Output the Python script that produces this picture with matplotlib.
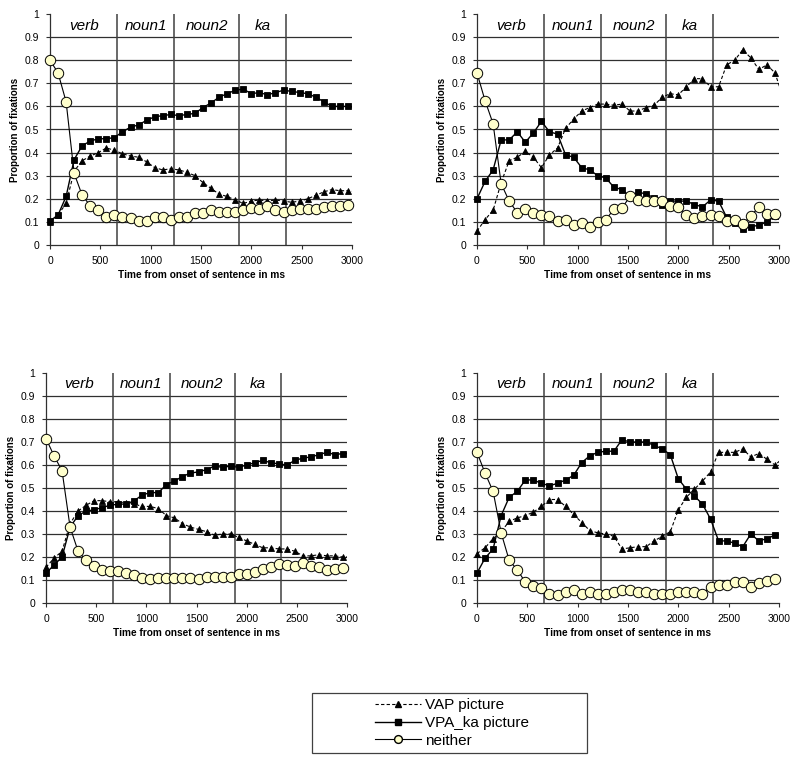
import numpy as np
import matplotlib
matplotlib.use("Agg")
import matplotlib.pyplot as plt
from matplotlib.lines import Line2D
from matplotlib.patches import Rectangle

plt.rcParams['font.family'] = ['Liberation Sans', 'DejaVu Sans']

# time axis (ms); last sample lies beyond the 3000 ms axis end
time_ms = [80 * i for i in range(39)]

regions = ["verb", "noun1", "noun2", "ka"]
boundaries = [0, 667, 1233, 1880, 2347]

series_names = ["VAP picture", "VPA_ka picture", "neither"]

# Panel 1 (top left)
p1_vap = [0.10, 0.13, 0.18, 0.32, 0.365, 0.385, 0.40, 0.42, 0.41, 0.395, 0.385, 0.38, 0.36,
          0.335, 0.325, 0.33, 0.325, 0.315, 0.30, 0.27, 0.245, 0.22, 0.21, 0.195, 0.18, 0.19,
          0.195, 0.19, 0.195, 0.19, 0.185, 0.19, 0.20, 0.215, 0.23, 0.24, 0.235, 0.235, 0.23]
p1_vpa = [0.104, 0.13, 0.21, 0.37, 0.43, 0.45, 0.46, 0.46, 0.465, 0.49, 0.51, 0.52, 0.54,
          0.555, 0.56, 0.565, 0.56, 0.565, 0.57, 0.595, 0.615, 0.64, 0.655, 0.67, 0.675, 0.655,
          0.66, 0.65, 0.66, 0.67, 0.665, 0.66, 0.655, 0.64, 0.62, 0.60, 0.60, 0.60, 0.595]
p1_nei = [0.80, 0.745, 0.62, 0.31, 0.215, 0.17, 0.15, 0.12, 0.13, 0.12, 0.115, 0.105, 0.105,
          0.12, 0.12, 0.11, 0.12, 0.12, 0.14, 0.14, 0.15, 0.145, 0.145, 0.145, 0.15, 0.16,
          0.155, 0.17, 0.15, 0.145, 0.15, 0.155, 0.155, 0.155, 0.165, 0.17, 0.17, 0.175, 0.18]

# Panel 2 (top right)
p2_vap = [0.06, 0.11, 0.15, 0.27, 0.365, 0.38, 0.405, 0.38, 0.335, 0.39, 0.42, 0.505, 0.545,
          0.58, 0.595, 0.61, 0.61, 0.605, 0.61, 0.58, 0.58, 0.595, 0.605, 0.64, 0.655, 0.65,
          0.685, 0.72, 0.72, 0.685, 0.685, 0.78, 0.80, 0.845, 0.81, 0.76, 0.78, 0.745, 0.64]
p2_vpa = [0.20, 0.275, 0.325, 0.455, 0.455, 0.49, 0.445, 0.485, 0.535, 0.49, 0.48, 0.39, 0.38,
          0.335, 0.325, 0.30, 0.29, 0.25, 0.24, 0.21, 0.23, 0.22, 0.205, 0.175, 0.19, 0.19,
          0.19, 0.175, 0.165, 0.195, 0.19, 0.12, 0.095, 0.07, 0.08, 0.085, 0.10, 0.125, 0.13]
p2_nei = [0.745, 0.625, 0.525, 0.265, 0.19, 0.14, 0.155, 0.14, 0.13, 0.125, 0.105, 0.11, 0.085,
          0.095, 0.08, 0.10, 0.11, 0.155, 0.16, 0.21, 0.195, 0.19, 0.19, 0.19, 0.17, 0.165,
          0.13, 0.115, 0.125, 0.13, 0.125, 0.105, 0.11, 0.09, 0.125, 0.165, 0.135, 0.135, 0.14]

# Panel 3 (bottom left)
p3_vap = [0.155, 0.195, 0.225, 0.345, 0.40, 0.425, 0.445, 0.445, 0.44, 0.44, 0.435, 0.43, 0.42,
          0.42, 0.41, 0.38, 0.37, 0.345, 0.33, 0.32, 0.31, 0.295, 0.30, 0.30, 0.285, 0.27,
          0.255, 0.24, 0.24, 0.235, 0.235, 0.225, 0.205, 0.205, 0.21, 0.205, 0.205, 0.20, 0.20]
p3_vpa = [0.13, 0.165, 0.20, 0.33, 0.38, 0.40, 0.405, 0.415, 0.425, 0.43, 0.43, 0.445, 0.47,
          0.48, 0.48, 0.515, 0.53, 0.55, 0.565, 0.57, 0.58, 0.595, 0.59, 0.595, 0.59, 0.60,
          0.61, 0.62, 0.61, 0.605, 0.60, 0.62, 0.63, 0.635, 0.645, 0.655, 0.645, 0.65, 0.65]
p3_nei = [0.715, 0.64, 0.575, 0.33, 0.225, 0.185, 0.16, 0.145, 0.14, 0.14, 0.13, 0.12, 0.11,
          0.105, 0.107, 0.107, 0.108, 0.11, 0.108, 0.105, 0.113, 0.113, 0.113, 0.113, 0.125,
          0.128, 0.135, 0.148, 0.157, 0.168, 0.166, 0.163, 0.172, 0.163, 0.155, 0.145, 0.15,
          0.152, 0.155]

# Panel 4 (bottom right)
p4_vap = [0.215, 0.24, 0.28, 0.31, 0.355, 0.37, 0.38, 0.395, 0.42, 0.45, 0.45, 0.42, 0.385,
          0.35, 0.315, 0.305, 0.30, 0.29, 0.235, 0.24, 0.245, 0.245, 0.27, 0.29, 0.31, 0.405,
          0.46, 0.495, 0.53, 0.57, 0.655, 0.655, 0.655, 0.67, 0.635, 0.65, 0.625, 0.60, 0.63]
p4_vpa = [0.13, 0.195, 0.235, 0.38, 0.46, 0.485, 0.535, 0.535, 0.52, 0.51, 0.52, 0.535, 0.555,
          0.61, 0.64, 0.655, 0.66, 0.66, 0.71, 0.70, 0.70, 0.70, 0.685, 0.67, 0.645, 0.54,
          0.495, 0.465, 0.43, 0.365, 0.27, 0.27, 0.26, 0.245, 0.30, 0.27, 0.28, 0.295, 0.30]
p4_nei = [0.655, 0.565, 0.485, 0.305, 0.185, 0.145, 0.09, 0.075, 0.065, 0.04, 0.035, 0.05, 0.055,
          0.04, 0.05, 0.04, 0.04, 0.05, 0.055, 0.055, 0.05, 0.05, 0.04, 0.04, 0.04, 0.05,
          0.05, 0.05, 0.04, 0.07, 0.08, 0.08, 0.09, 0.09, 0.07, 0.085, 0.095, 0.105, 0.11]

panels = [(p1_vap, p1_vpa, p1_nei), (p2_vap, p2_vpa, p2_nei),
          (p3_vap, p3_vpa, p3_nei), (p4_vap, p4_vpa, p4_nei)]

W, H = 800, 763
# axes boxes in pixels: left, right, top, bottom
boxes = [(50, 352, 14, 245), (477, 779, 14, 245), (46, 347, 373, 603), (477, 779, 373, 603)]

styles = [
    dict(color='black', ls=(0, (3, 2)), lw=0.8, marker='^', ms=5, mfc='black', mec='black'),
    dict(color='black', ls='-', lw=1.0, marker='s', ms=5, mfc='black', mec='black'),
    dict(color='black', ls='-', lw=0.8, marker='o', ms=7.5, mfc='#FFFFCC', mec='black', mew=0.7),
]

fig = plt.figure(figsize=(W / 100, H / 100), dpi=100)
t = np.array(time_ms)
inside = t <= 3000
grid_col = '#303030'

for (vap, vpa, nei), (l, r, tp, b) in zip(panels, boxes):
    ax = fig.add_axes([l / W, (H - b) / H, (r - l) / W, (b - tp) / H])
    ax.set_xlim(0, 3000)
    ax.set_ylim(0, 1)
    for yv in np.arange(0.1, 0.95, 0.1):
        ax.axhline(yv, color=grid_col, lw=0.9, zorder=1)
    for xb in boundaries[1:]:
        ax.axvline(xb, color='#404040', lw=1.1, zorder=1)
    for k, (vals, st) in enumerate(zip((vap, vpa, nei), styles)):
        v = np.array(vals)
        ax.plot(t, v, color=st['color'], ls=st['ls'], lw=st['lw'], zorder=3 + k)
        ax.plot(t[inside], v[inside], ls='none', marker=st['marker'], ms=st['ms'],
                mfc=st['mfc'], mec=st['mec'], mew=st.get('mew', 0.6), zorder=3.5 + k,
                clip_on=False)
    for name, x0, x1 in zip(regions, boundaries[:-1], boundaries[1:]):
        ax.text((x0 + x1) / 2, 0.95, name, style='italic', fontsize=11,
                ha='center', va='center')
    for s in ['top', 'right']:
        ax.spines[s].set_visible(False)
    for s in ['left', 'bottom']:
        ax.spines[s].set_color('#303030')
        ax.spines[s].set_linewidth(0.9)
    ax.set_yticks(np.round(np.arange(0, 1.01, 0.1), 1))
    ax.set_yticklabels(['0'] + [f'{v:.1f}' for v in np.arange(0.1, 0.95, 0.1)] + ['1'])
    ax.set_xticks([0, 500, 1000, 1500, 2000, 2500, 3000])
    ax.tick_params(axis='both', labelsize=7.5, length=3, width=0.8, color='#303030', pad=5)
    ax.set_ylabel('Proportion of fixations', fontsize=7, fontweight='bold', labelpad=3)
    ax.set_xlabel('Time from onset of sentence in ms', fontsize=7.3, fontweight='bold', labelpad=3)

# legend
handles = [Line2D([], [], color='black', ls=st['ls'], lw=st['lw'], marker=st['marker'],
                  ms=st['ms'], mfc=st['mfc'], mec=st['mec']) for st in styles]
fig.legend(handles, series_names, loc='center', bbox_to_anchor=(452 / W, 1 - 723 / H),
           frameon=False, fontsize=11, handlelength=3.0, handletextpad=0.3,
           labelspacing=0.25, borderpad=0, markerscale=0.75)
fig.patches.append(Rectangle((312 / W, 1 - 753 / H), 275 / W, 60 / H, transform=fig.transFigure,
                             fill=False, edgecolor='#404040', lw=0.9))

fig.savefig('out.png', dpi=100)
